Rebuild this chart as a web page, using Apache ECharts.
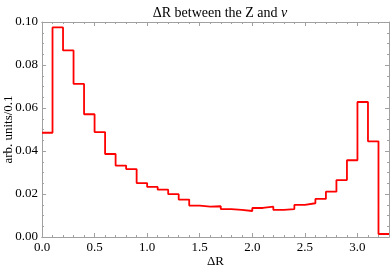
<!DOCTYPE html>
<html><head><meta charset="utf-8">
<script src="https://cdn.jsdelivr.net/npm/echarts@6/dist/echarts.min.js"></script>
<style>html,body{margin:0;padding:0;background:#fff}#c{width:390px;height:271px}</style>
</head><body><div id="c"></div>
<script>
// bin lower edges (ΔR), bin width 0.1
var binStarts = [0.0,0.1,0.2,0.3,0.4,0.5,0.6,0.7,0.8,0.9,1.0,1.1,1.2,1.3,1.4,1.5,1.6,1.7,1.8,1.9,2.0,2.1,2.2,2.3,2.4,2.5,2.6,2.7,2.8,2.9,3.0,3.1,3.2];
var binWidth = 0.1;
// arb. units / 0.1
var values = [0.0485,0.0975,0.0868,0.0712,0.0571,0.0488,0.0386,0.0332,0.0316,0.0251,0.0233,0.0220,0.0199,0.0174,0.0146,0.0141,0.0143,0.0130,0.0126,0.0121,0.0135,0.0141,0.0126,0.0130,0.0149,0.0157,0.0177,0.0211,0.0265,0.0357,0.0628,0.0445,0.0014];
var xTicks = ['0.0','0.5','1.0','1.5','2.0','2.5','3.0'];
var yTicks = ['0.00','0.02','0.04','0.06','0.08','0.10'];

var stepData = binStarts.map(function(s,i){return [s, values[i]];});
stepData.push([binStarts[binStarts.length-1]+binWidth, values[values.length-1]]);

var FONT = '"Liberation Serif","DejaVu Serif",serif';
var frame = '#a0a0a0';
var chart = echarts.init(document.getElementById('c'), null, {renderer:'canvas'});

function xAx(pos, interval, len, labels){
  return {type:'value', position:pos, offset:0, min:0, max:3.3, interval:interval,
    axisLine:{show:true, onZero:false, lineStyle:{color:frame, width:1}},
    axisTick:{show:true, inside:true, length:len, lineStyle:{color:frame}},
    splitLine:{show:false},
    axisLabel:{show:labels, showMaxLabel:false, margin:4, color:'#000', fontFamily:FONT, fontSize:13,
      formatter:function(v){var i=Math.round(v/0.5); return xTicks[i]||'';}},
    name: labels ? 'ΔR' : '', nameLocation:'middle', nameGap:18, nameMoveOverlap:false,
    nameTextStyle:{color:'#000', fontFamily:FONT, fontSize:13}};
}
function yAx(pos, labels){
  return {type:'value', position:pos, min:0, max:0.1, interval:0.02,
    axisLine:{show:true, onZero:false, lineStyle:{color:frame, width:1}},
    axisTick:{show:true, inside:true, length:4, lineStyle:{color:frame}},
    minorTick:{show:true, splitNumber:4, length:2, lineStyle:{color:frame}},
    splitLine:{show:false},
    axisLabel:{show:labels, margin:4, color:'#000', fontFamily:FONT, fontSize:13,
      formatter:function(v){var i=Math.round(v/0.02); return yTicks[i]||'';}},
    name: labels ? 'arb. units/0.1' : '', nameLocation:'middle', nameGap:27, nameMoveOverlap:false,
    nameTextStyle:{color:'#000', fontFamily:FONT, fontSize:13}};
}

chart.setOption({
  animation:false,
  title:{text:'ΔR between the Z and {i|ν}', left:215, top:1, textAlign:'center',
    textStyle:{fontFamily:FONT, fontSize:14, fontWeight:'normal', color:'#000',
      rich:{i:{fontFamily:FONT, fontSize:14, fontStyle:'italic', color:'#000'}}}},
  grid:{left:42, right:1, top:22, bottom:34, containLabel:false, outerBoundsMode:'none'},
  xAxis:[xAx('bottom',0.5,4,true), xAx('bottom',0.1,2,false),
         xAx('top',0.5,4,false), xAx('top',0.1,2,false)],
  yAxis:[yAx('left',true), yAx('right',false)],
  series:[{type:'line', xAxisIndex:0, yAxisIndex:0, step:'end', data:stepData,
    symbol:'none', lineStyle:{color:'#ff0000', width:1.8}}]
});
</script></body></html>
